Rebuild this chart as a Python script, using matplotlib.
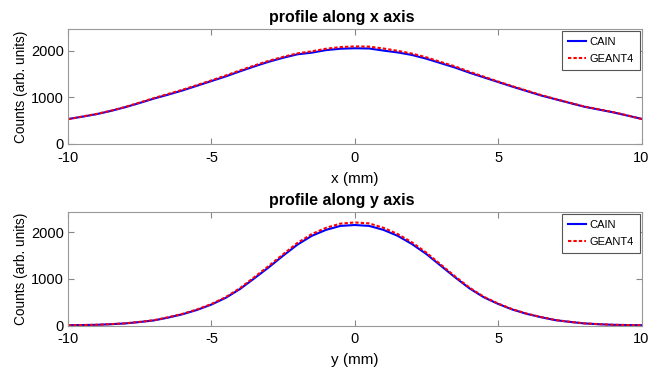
import matplotlib
matplotlib.use("Agg")
import matplotlib.pyplot as plt
import numpy as np

plt.rcParams['font.family'] = ['Liberation Sans', 'DejaVu Sans']
plt.rcParams['axes.unicode_minus'] = False

# transverse positions (mm)
pos = np.arange(-10, 10.01, 0.5)

# profile along x
x_cain = [535, 585, 640, 710, 790, 880, 975, 1060, 1150, 1250, 1350,
          1450, 1560, 1665, 1765, 1850, 1925, 1960, 2015, 2045, 2055,
          2050, 2005, 1965, 1910, 1830, 1735, 1640, 1530, 1430, 1330,
          1230, 1135, 1040, 960, 880, 800, 740, 680, 610, 540]
x_geant = [530, 590, 645, 715, 795, 890, 985, 1075, 1165, 1265, 1365,
           1470, 1580, 1685, 1785, 1870, 1945, 1990, 2045, 2080, 2095,
           2090, 2050, 2000, 1940, 1860, 1760, 1665, 1550, 1445, 1340,
           1240, 1145, 1050, 965, 885, 805, 745, 685, 615, 535]

# profile along y
y_cain = [7, 10, 15, 28, 45, 75, 110, 171, 243, 335, 450,
          595, 785, 1015, 1250, 1500, 1738, 1927, 2056, 2141, 2160,
          2141, 2056, 1927, 1749, 1535, 1285, 1035, 799, 607, 464,
          343, 250, 178, 115, 78, 45, 28, 15, 10, 6]
y_geant = [7, 10, 16, 30, 48, 78, 115, 178, 252, 345, 462,
           610, 805, 1040, 1280, 1530, 1775, 1965, 2100, 2190, 2215,
           2195, 2100, 1965, 1785, 1565, 1310, 1055, 815, 618, 472,
           350, 255, 182, 118, 80, 47, 29, 16, 10, 6]

fig = plt.figure(figsize=(6.52, 3.71), dpi=100)
ax1 = fig.add_axes([0.1043, 0.612, 0.8796, 0.310])
ax2 = fig.add_axes([0.1043, 0.1226, 0.8796, 0.306])

panels = [(ax1, x_cain, x_geant, 'profile along x axis', 'x (mm)', 2470),
          (ax2, y_cain, y_geant, 'profile along y axis', 'y (mm)', 2440)]

for ax, cain, geant, title, xlabel, ytop in panels:
    ax.plot(pos, cain, '-', color='blue', lw=1.5, label='CAIN')
    ax.plot(pos, geant, '--', color='red', lw=1.5, dashes=(1.6, 1.0),
            label='GEANT4')
    ax.set_xlim(-10, 10)
    ax.set_ylim(0, ytop)
    ax.set_xticks([-10, -5, 0, 5, 10])
    ax.set_yticks([0, 1000, 2000])
    ax.tick_params(direction='in', top=True, right=True, length=4,
                   color='#888888', labelsize=10.5)
    ax.tick_params(axis='x', pad=5)
    ax.tick_params(axis='y', pad=3)
    for sp in ax.spines.values():
        sp.set_color('#999999')
        sp.set_linewidth(0.8)
    ax.set_title(title, fontsize=11.5, fontweight='bold', pad=5, x=0.478)
    ax.set_xlabel(xlabel, fontsize=11, labelpad=5)
    ax.set_ylabel('Counts (arb. units)', fontsize=9.8, labelpad=2)
    leg = ax.legend(loc='upper right', fontsize=8, fancybox=False,
                    framealpha=1, handlelength=1.6, borderpad=0.55,
                    labelspacing=0.65, handletextpad=0.3,
                    borderaxespad=0.15)
    leg.get_frame().set_edgecolor('#555555')
    leg.get_frame().set_linewidth(0.8)

fig.savefig('out.png', dpi=100)
